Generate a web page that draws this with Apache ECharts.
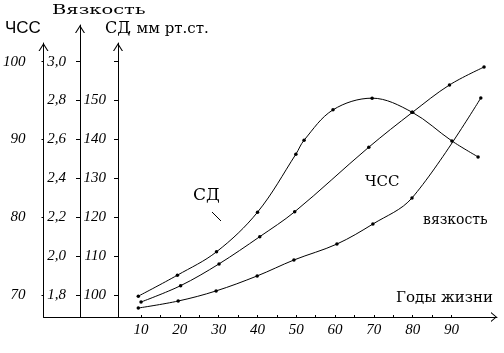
<!DOCTYPE html>
<html>
<head>
<meta charset="utf-8">
<script src="https://cdn.jsdelivr.net/npm/echarts@6/dist/echarts.min.js"></script>
<style>
  html, body { margin: 0; padding: 0; background: #fff; }
  #chart { width: 504px; height: 353px; }
</style>
</head>
<body>
<div id="chart"></div>
<script>
// СД, мм рт.ст.
const sdAge = [10, 20, 30, 40.5, 50.3, 52.4, 59.8, 69.8, 80, 90.2, 96.9]
const sdVal = [99.7, 105.1, 111.1, 121.3, 136.2, 139.8, 147.6, 150.6, 147.0, 139.6, 135.5]
// ЧСС
const hrAge = [10, 20.2, 30.1, 40.6, 49.6, 68.7, 80, 89.5, 98.4]
const hrVal = [69.1, 71.2, 74.0, 77.5, 80.7, 89.0, 93.5, 97.0, 99.3]
// вязкость
const viscAge = [10, 20.2, 29.9, 40.4, 49.8, 60.8, 70, 80, 97.6]
const viscVal = [1.733, 1.769, 1.821, 1.898, 1.98, 2.062, 2.165, 2.299, 2.813]

const ageTicks = [10, 15, 20, 25, 30, 35, 40, 45, 50, 55, 60, 65, 70, 75, 80, 85, 90]
const ageLabels = [10, 20, 30, 40, 50, 60, 70, 80, 90]
const hrTicks = [70, 80, 90, 100]
const viscTicks = [1.8, 2.0, 2.2, 2.4, 2.6, 2.8, 3.0]
const sdTicks = [100, 110, 120, 130, 140, 150, 160]
const sdLabels = [100, 110, 120, 130, 140, 150]

const chart = echarts.init(document.getElementById('chart'))

// all three y scales share one pixel grid: x axis at y=317, lowest tick row at y=295
const AXIS_Y = 317, BASE_Y = 295, STEP_PX = 38.9
const span = (base, step, topY) => ({
  min: base - (AXIS_Y - BASE_Y) / STEP_PX * step,
  max: base + (BASE_Y - topY) / STEP_PX * step
})
const X_PX = 3.91, X0 = 99.2, LEFT = 40, RIGHT_END = 497
const xRange = { min: -(X0 - LEFT) / X_PX, max: (RIGHT_END - X0) / X_PX }
const tops = [43, 25, 43]

const black = '#000'
const yArrow = 'path://M0,8L5,0L10,8L8.8,8L5,1.92L1.2,8Z'
const xArrow = 'path://M0,6L5,0L10,6L8.8,6L5,1.44L1.2,6Z'
const numFont = { fontFamily: 'Liberation Sans Narrow', fontStyle: 'italic', fontSize: 15, color: black }
const serif = '"DejaVu Serif"'

const yAxisBase = (i, offset, range, ticks, labels, tickLen, margin, fmt) => ({
  gridIndex: i,
  type: 'value',
  position: 'left',
  offset: offset,
  min: range.min,
  max: range.max,
  axisLine: {
    show: true, onZero: false,
    symbol: ['none', yArrow], symbolSize: [10, 8], symbolOffset: [0, -4],
    lineStyle: { color: black, width: 1 }
  },
  axisTick: { show: true, length: tickLen, customValues: ticks, lineStyle: { color: black } },
  axisLabel: { customValues: labels, margin: margin, formatter: fmt, ...numFont },
  splitLine: { show: false }
})

const toPairs = (xs, ys) => xs.map((x, i) => [x, ys[i]])
const lineSeries = (i, data) => ({
  type: 'line',
  xAxisIndex: i,
  yAxisIndex: i,
  data: data,
  smooth: 0.35,
  symbol: 'circle',
  symbolSize: 3.5,
  showAllSymbol: true,
  clip: false,
  lineStyle: { color: black, width: 1 },
  itemStyle: { color: black }
})

const text = (x, y, str, font, extra) => ({
  type: 'text', x: x, y: y, ...extra,
  style: { text: str, font: font, fill: black, verticalAlign: 'middle' }
})

const option = {
  animation: false,
  backgroundColor: '#fff',
  grid: tops.map(t => ({ left: LEFT, right: 504 - RIGHT_END, top: t, bottom: 353 - AXIS_Y })),
  xAxis: [0, 1, 2].map(i => ({
    gridIndex: i,
    type: 'value',
    show: i === 0,
    min: xRange.min,
    max: xRange.max,
    axisLine: {
      onZero: false,
      symbol: ['none', xArrow], symbolSize: [10, 6], symbolOffset: [0, -3],
      lineStyle: { color: black, width: 1 }
    },
    axisTick: { inside: true, length: 2, customValues: ageTicks, lineStyle: { color: black } },
    axisLabel: { customValues: ageLabels, margin: 6, ...numFont },
    splitLine: { show: false }
  })),
  yAxis: [
    yAxisBase(0, 0, span(70, 5, tops[0]), hrTicks, hrTicks, 2, 18),
    yAxisBase(1, -40, span(1.8, 0.2, tops[1]), viscTicks, viscTicks, 4, 14,
      v => v.toFixed(1).replace('.', ',')),
    yAxisBase(2, -78, span(100, 10, tops[2]), sdTicks, sdLabels, 4, 12)
  ],
  series: [
    lineSeries(0, toPairs(hrAge, hrVal)),
    lineSeries(1, toPairs(viscAge, viscVal)),
    lineSeries(2, toPairs(sdAge, sdVal))
  ],
  graphic: [
    text(5, 28, 'ЧСС', '17px "Liberation Sans"'),
    text(52, 11, 'Вязкость', '13px ' + serif, { scaleX: 1.5 }),
    text(105, 28.5, 'СД', '16px ' + serif),
    text(127, 29, ', мм рт.ст.', '15px ' + serif),
    text(396, 298, 'Годы жизни', '15px ' + serif),
    text(193, 196, 'СД', '17px ' + serif),
    { type: 'line', shape: { x1: 212, y1: 212, x2: 221, y2: 221 }, style: { stroke: black, lineWidth: 1 } },
    text(365, 182, 'ЧСС', '15px ' + serif),
    text(423, 220.5, 'вязкость', '14px ' + serif)
  ]
}

chart.setOption(option)
</script>
</body>
</html>
